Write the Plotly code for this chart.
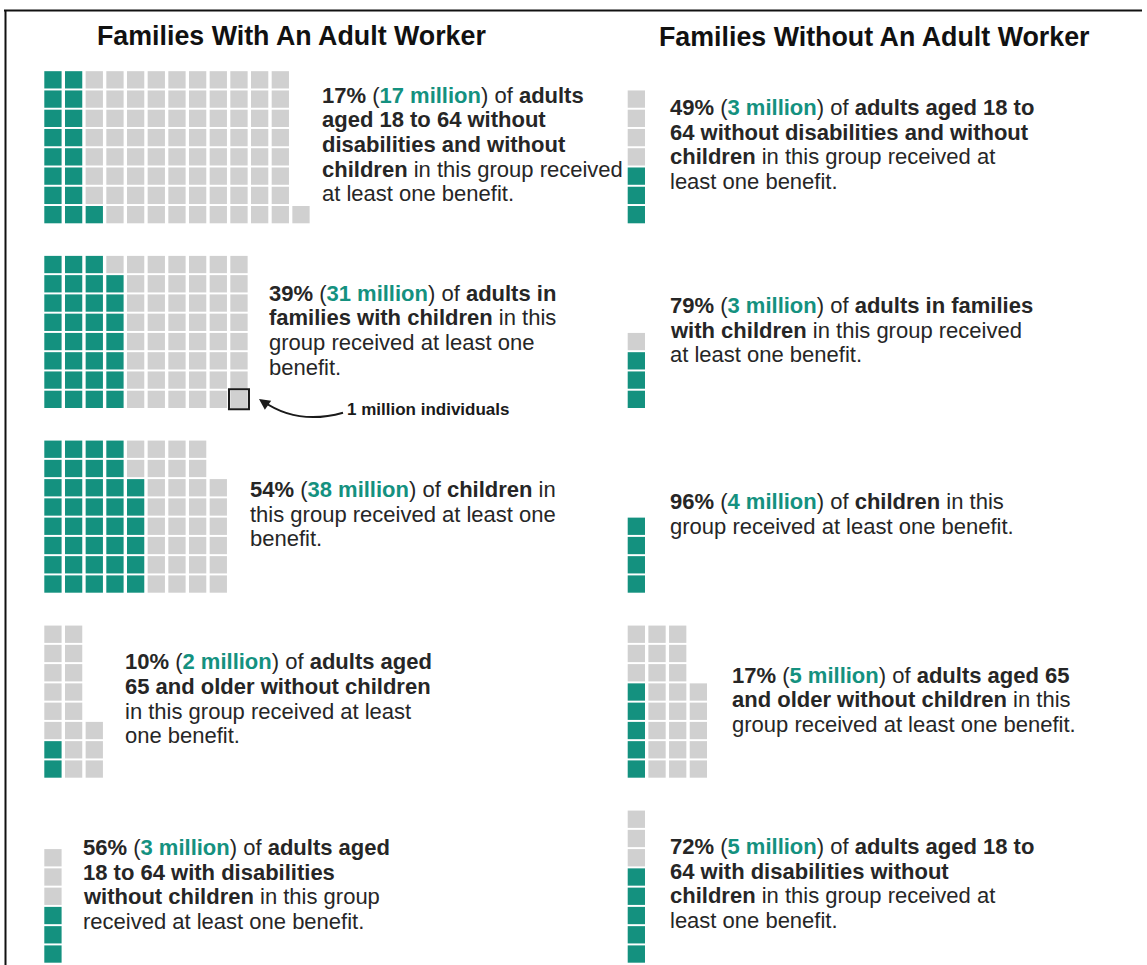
import plotly.graph_objects as go

TEAL = "#14917f"
GRAY = "#d0d0d0"
INK = "#262626"
FONT = "Liberation Sans, Arial, Helvetica, sans-serif"

column_titles = ["Families With An Adult Worker", "Families Without An Adult Worker"]

# Benefit receipt by group, in millions of individuals (one square = 1 million)
with_worker_pct = [17, 39, 54, 10, 56]
with_worker_recipients = [17, 31, 38, 2, 3]
with_worker_group_size = [97, 80, 70, 19, 6]

without_worker_pct = [49, 79, 96, 17, 72]
without_worker_recipients = [3, 3, 4, 5, 5]
without_worker_group_size = [7, 4, 4, 29, 8]

# Caption wording; "{lead}" is replaced by the share and head count
with_worker_captions = [
    ["{lead} of <b>adults</b>",
     "<b>aged 18 to 64 without</b>",
     "<b>disabilities and without</b>",
     "<b>children</b> in this group received",
     "at least one benefit."],
    ["{lead} of <b>adults in</b>",
     "<b>families with children</b> in this",
     "group received at least one",
     "benefit."],
    ["{lead} of <b>children</b> in",
     "this group received at least one",
     "benefit."],
    ["{lead} of <b>adults aged</b>",
     "<b>65 and older without children</b>",
     "in this group received at least",
     "one benefit."],
    ["{lead} of <b>adults aged</b>",
     "<b>18 to 64 with disabilities</b>",
     "<b>without children</b> in this group",
     "received at least one benefit."],
]
without_worker_captions = [
    ["{lead} of <b>adults aged 18 to</b>",
     "<b>64 without disabilities and without</b>",
     "<b>children</b> in this group received at",
     "least one benefit."],
    ["{lead} of <b>adults in families</b>",
     "<b>with children</b> in this group received",
     "at least one benefit."],
    ["{lead} of <b>children</b> in this",
     "group received at least one benefit."],
    ["{lead} of <b>adults aged 65</b>",
     "<b>and older without children</b> in this",
     "group received at least one benefit."],
    ["{lead} of <b>adults aged 18 to</b>",
     "<b>64 with disabilities without</b>",
     "<b>children</b> in this group received at",
     "least one benefit."],
]
scale_note = "1 million individuals"

# ---- page geometry (pixels) ----
W, H = 1147, 965
ROWS = 8
PITCH_X, PITCH_Y = 20.67, 19.26
CELL = 17.3
column_x0 = [44.3, 627.7]
row_bottom = [223.3, 408.0, 592.7, 777.7, 962.7]
caption_anchor = [
    [(321.7, 102.7), (269.3, 300.8), (250.0, 497.0), (125.0, 669.5), (83.3, 855.0)],
    [(670.0, 115.0), (670.0, 313.0), (670.0, 509.5), (732.3, 682.7), (670.0, 854.0)],
]
LINE_STEP = 24.7
BODY_SIZE = 22
TITLE_SIZE = 26.8
NOTE_SIZE = 17
title_center = [(291.5, 45.5), (874.5, 46.0)]


def mid_from_baseline(baseline, size):
    return baseline - 0.3465 * size


def waffle(n_total, x0, bottom):
    xs, ys = [], []
    for i in range(n_total):
        col, row = divmod(i, ROWS)
        xs.append(x0 + CELL / 2 + col * PITCH_X)
        ys.append(bottom - CELL / 2 - row * PITCH_Y)
    return xs, ys


fig = go.Figure()
annotations = []

panels = [
    (with_worker_pct, with_worker_recipients, with_worker_group_size, with_worker_captions),
    (without_worker_pct, without_worker_recipients, without_worker_group_size, without_worker_captions),
]

for c, (pcts, recips, sizes, captions) in enumerate(panels):
    for r in range(len(pcts)):
        xs, ys = waffle(sizes[r], column_x0[c], row_bottom[r])
        k = recips[r]
        fig.add_trace(go.Scatter(
            x=xs[k:], y=ys[k:], mode="markers", hoverinfo="skip", showlegend=False,
            marker=dict(symbol="square", size=CELL, color=GRAY, line=dict(width=0)),
        ))
        fig.add_trace(go.Scatter(
            x=xs[:k], y=ys[:k], mode="markers", hoverinfo="skip", showlegend=False,
            marker=dict(symbol="square", size=CELL, color=TEAL, line=dict(width=0)),
        ))

        lead = (f"<b>{pcts[r]}%</b> (<b><span style='color:{TEAL}'>"
                f"{recips[r]} million</span></b>)")
        x_txt, base = caption_anchor[c][r]
        for j, line in enumerate(captions[r]):
            annotations.append(dict(
                x=x_txt, y=mid_from_baseline(base + j * LINE_STEP, BODY_SIZE),
                xref="x", yref="y", xanchor="left", yanchor="middle",
                text=line.replace("{lead}", lead), showarrow=False,
                borderpad=0, borderwidth=0,
                font=dict(family=FONT, size=BODY_SIZE, color=INK),
            ))

    tx, tb = title_center[c]
    annotations.append(dict(
        x=tx, y=mid_from_baseline(tb, TITLE_SIZE), xref="x", yref="y",
        xanchor="center", yanchor="middle", text=f"<b>{column_titles[c]}</b>",
        showarrow=False, borderpad=0, borderwidth=0,
        font=dict(family=FONT, size=TITLE_SIZE, color="#111111"),
    ))

# scale key: outline one square of the second with-worker waffle
key_group = 1
kx, ky = waffle(with_worker_group_size[key_group], column_x0[0], row_bottom[key_group])
key_col = (with_worker_group_size[key_group] - 1) // ROWS
key_idx = key_col * ROWS
fig.add_trace(go.Scatter(
    x=[kx[key_idx]], y=[ky[key_idx]], mode="markers", hoverinfo="skip", showlegend=False,
    marker=dict(symbol="square-open", size=20, color="#1a1a1a", line=dict(width=2)),
))

shapes = [
    dict(type="path", xref="x", yref="y",
         path="M 343,412.7 Q 297.5,425.4 263,401.2",
         line=dict(color="#1a1a1a", width=2)),
    dict(type="line", xref="x", yref="y", x0=4, x1=1142, y0=10.5, y1=10.5,
         line=dict(color="#111111", width=2)),
    dict(type="line", xref="x", yref="y", x0=5.5, x1=5.5, y0=10, y1=H + 5,
         line=dict(color="#111111", width=2)),
]

annotations.append(dict(
    x=259.0, y=399.0, ax=268.0, ay=405.3, xref="x", yref="y", axref="x", ayref="y",
    text="", showarrow=True, arrowhead=2, arrowsize=1.1, arrowwidth=2,
    arrowcolor="#1a1a1a", standoff=0,
))
annotations.append(dict(
    x=346.7, y=mid_from_baseline(415.7, NOTE_SIZE), xref="x", yref="y",
    xanchor="left", yanchor="middle", text=f"<b>{scale_note}</b>",
    showarrow=False, borderpad=0, borderwidth=0,
    font=dict(family=FONT, size=NOTE_SIZE, color="#1a1a1a"),
))

fig.update_layout(
    width=W, height=H, margin=dict(l=0, r=0, t=0, b=0),
    paper_bgcolor="white", plot_bgcolor="white",
    xaxis=dict(range=[0, W], visible=False, fixedrange=True),
    yaxis=dict(range=[H, 0], visible=False, fixedrange=True),
    shapes=shapes, annotations=annotations,
)

fig.write_html("out.html", config={"displayModeBar": False})
